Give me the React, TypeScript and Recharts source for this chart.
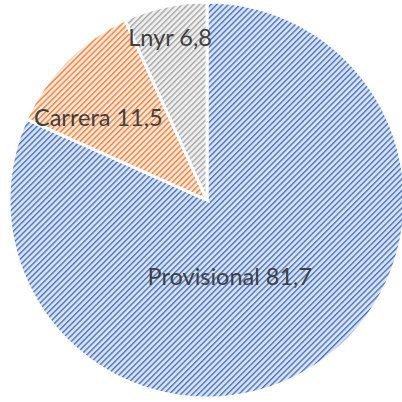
import React from "react";
import { PieChart, Pie, Cell } from "recharts";

const categories = ["Provisional", "Carrera", "Lnyr"];
const values = [81.7, 11.5, 6.8];
const lineColors = ["#4a76c6", "#ee8440", "#a8a8a8"];
const bgColors = ["#d8e2f4", "#fbe5d6", "#eeeeee"];
// label placement: fraction of radius and angular tweak (degrees)
const labelRadius = [0.4, 0.69, 0.845];
const labelAngleShift = [-16.2, 7.5, 0.5];

const data = categories.map((name, i) => ({ name, value: values[i] }));

const RAD = Math.PI / 180;

const renderLabel = (props: any) => {
  const { cx, cy, midAngle, outerRadius, index, name, value } = props;
  const a = (midAngle + labelAngleShift[index]) * RAD;
  const r = outerRadius * labelRadius[index];
  const x = cx + r * Math.cos(a);
  const y = cy - r * Math.sin(a);
  return (
    <text
      x={x}
      y={y}
      textAnchor="middle"
      dominantBaseline="central"
      fill="#404040"
      fontFamily="Lato, 'Open Sans', sans-serif"
      fontSize={23.5}
    >
      {`${name} ${Number(value).toFixed(1).replace(".", ",")}`}
    </text>
  );
};

export default function App() {
  return (
    <div style={{ position: "absolute", left: 0, top: 0, width: 402, height: 402, background: "#fff" }}>
      <svg width={0} height={0} style={{ position: "absolute" }}>
        <defs>
          {categories.map((c, i) => (
            <pattern
              key={c}
              id={`pat${i}`}
              patternUnits="userSpaceOnUse"
              width={4.1}
              height={4.1}
              patternTransform="rotate(45)"
            >
              <rect x={0} y={0} width={4.1} height={4.1} fill={bgColors[i]} />
              <rect x={0} y={0} width={1.4} height={4.1} fill={lineColors[i]} />
            </pattern>
          ))}
        </defs>
      </svg>
      <PieChart width={402} height={402} margin={{ top: 0, right: 0, bottom: 0, left: 0 }}>
        <Pie
          data={data}
          dataKey="value"
          nameKey="name"
          cx={207}
          cy={200}
          outerRadius={198}
          startAngle={90}
          endAngle={-270}
          stroke="#ffffff"
          strokeWidth={3}
          label={renderLabel}
          labelLine={false}
          isAnimationActive={false}
        >
          {data.map((d, i) => (
            <Cell key={d.name} fill={`url(#pat${i})`} />
          ))}
        </Pie>
      </PieChart>
    </div>
  );
}
